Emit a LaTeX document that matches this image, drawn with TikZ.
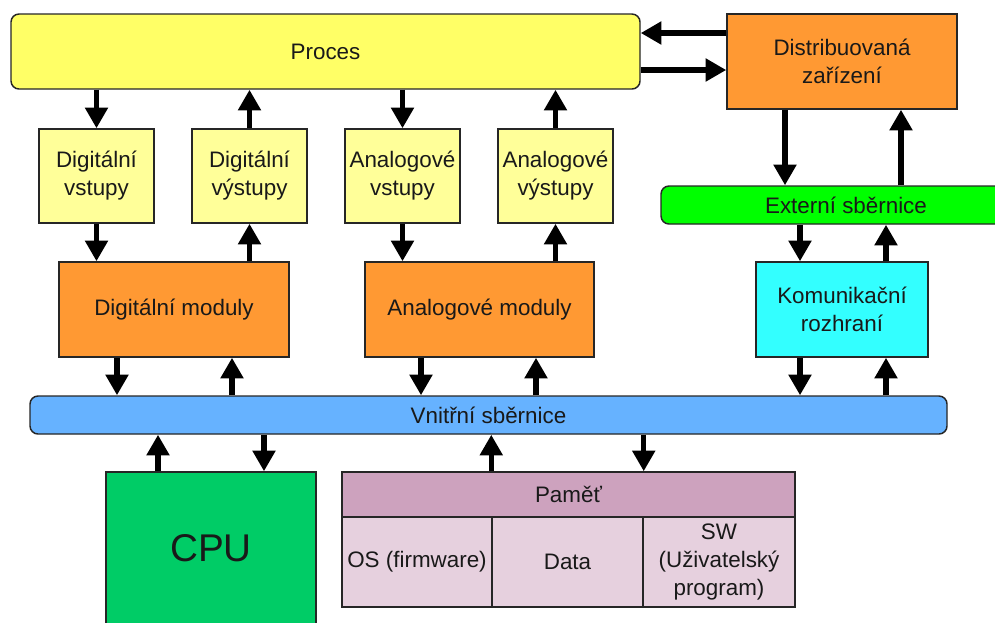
\documentclass[tikz,border=0pt]{standalone}
\usepackage{fontspec}
\setmainfont{Liberation Sans}
\usetikzlibrary{arrows.meta}

\definecolor{procY}{HTML}{FFFF66}
\definecolor{ioY}{HTML}{FFFF99}
\definecolor{modO}{HTML}{FF9933}
\definecolor{extG}{HTML}{00FF00}
\definecolor{komC}{HTML}{33FFFF}
\definecolor{busB}{HTML}{66B2FF}
\definecolor{cpuG}{HTML}{00CC66}
\definecolor{memH}{HTML}{CDA2BE}
\definecolor{memC}{HTML}{E6D0DE}

\tikzset{
  blk/.style={draw=black!85, line width=1.1pt, inner sep=0pt, align=center,
    font=\fontsize{16.8}{21}\selectfont, text=black!90},
  rblk/.style={blk, rounded corners=6pt},
  arr/.style={line width=4pt, -{Triangle[length=15.5pt,width=16.5pt]}},
}

\begin{document}
\begin{tikzpicture}[x=0.75pt, y=-0.75pt]
  \useasboundingbox (0,0) rectangle (995,622);
  \clip (0,0) rectangle (995,622);

  % top row
  \node[rblk, fill=procY, minimum width=471.75pt, minimum height=56.25pt] (proc) at (325.5,51.5) {Proces};
  \node[blk, fill=modO, minimum width=172.5pt, minimum height=71.25pt] (dist) at (842,61.5) {Distribuovaná\\zařízení};

  % inputs / outputs
  \node[blk, fill=ioY, minimum width=86.25pt, minimum height=70.5pt] (dv)  at (96.5,176)  {Digitální\\vstupy};
  \node[blk, fill=ioY, minimum width=86.25pt, minimum height=70.5pt] (dvy) at (249.5,176) {Digitální\\výstupy};
  \node[blk, fill=ioY, minimum width=86.25pt, minimum height=70.5pt] (av)  at (402.5,176) {Analogové\\vstupy};
  \node[blk, fill=ioY, minimum width=86.25pt, minimum height=70.5pt] (avy) at (555.5,176) {Analogové\\výstupy};

  % external bus and communication interface
  \node[rblk, fill=extG, minimum width=277.5pt, minimum height=28.5pt] (ext) at (846,205) {Externí sběrnice};
  \node[blk, fill=komC, minimum width=129pt, minimum height=71.25pt] (kom) at (842,309.5) {Komunikační\\rozhraní};

  % modules
  \node[blk, fill=modO, minimum width=172.5pt, minimum height=71.25pt] (dm) at (174,309.5) {Digitální moduly};
  \node[blk, fill=modO, minimum width=171.75pt, minimum height=71.25pt] (am) at (479.5,309.5) {Analogové moduly};

  % internal bus
  \node[rblk, fill=busB, minimum width=687.75pt, minimum height=28.5pt] (bus) at (488.5,415) {Vnitřní sběrnice};

  % CPU and memory
  \node[blk, fill=cpuG, minimum width=157.5pt, minimum height=114pt, font=\fontsize{29}{34}\selectfont] (cpu) at (211,548) {CPU};
  \node[blk, fill=memH, minimum width=339.75pt, minimum height=33.75pt] (memh) at (568.5,494.5) {Paměť};
  \node[blk, fill=memC, minimum width=112.5pt, minimum height=67.5pt] (os)   at (417,562)   {OS (firmware)};
  \node[blk, fill=memC, minimum width=113.25pt, minimum height=67.5pt] (data) at (567.5,562) {Data};
  \node[blk, fill=memC, minimum width=114pt, minimum height=67.5pt] (sw)   at (719,562)   {SW\\(Uživatelský\\program)};

  % process <-> distributed devices
  \draw[arr] ([yshift=21.375pt]dist.west) -- ([yshift=21.375pt]dist.west -| proc.east);
  \draw[arr] ([yshift=-6.375pt]dist.west -| proc.east) -- ([yshift=-6.375pt]dist.west);

  % process <-> I/O
  \draw[arr] (dv.north |- proc.south) -- (dv.north);
  \draw[arr] (dvy.north) -- (dvy.north |- proc.south);
  \draw[arr] (av.north |- proc.south) -- (av.north);
  \draw[arr] (avy.north) -- (avy.north |- proc.south);

  % I/O <-> modules
  \draw[arr] (dv.south) -- (dv.south |- dm.north);
  \draw[arr] (dvy.south |- dm.north) -- (dvy.south);
  \draw[arr] (av.south) -- (av.south |- am.north);
  \draw[arr] (avy.south |- am.north) -- (avy.south);

  % modules <-> internal bus
  \draw[arr] ([xshift=-42.75pt]dm.south) -- ([xshift=-42.75pt]dm.south |- bus.north);
  \draw[arr] ([xshift=43.5pt]dm.south |- bus.north) -- ([xshift=43.5pt]dm.south);
  \draw[arr] ([xshift=-43.875pt]am.south) -- ([xshift=-43.875pt]am.south |- bus.north);
  \draw[arr] ([xshift=42.375pt]am.south |- bus.north) -- ([xshift=42.375pt]am.south);

  % distributed devices <-> external bus
  \draw[arr] ([xshift=-42.75pt]dist.south) -- ([xshift=-42.75pt]dist.south |- ext.north);
  \draw[arr] ([xshift=44.25pt]dist.south |- ext.north) -- ([xshift=44.25pt]dist.south);

  % external bus <-> interface <-> internal bus
  \draw[arr] ([xshift=-31.5pt]kom.north |- ext.south) -- ([xshift=-31.5pt]kom.north);
  \draw[arr] ([xshift=33pt]kom.north) -- ([xshift=33pt]kom.north |- ext.south);
  \draw[arr] ([xshift=-31.5pt]kom.south) -- ([xshift=-31.5pt]kom.south |- bus.north);
  \draw[arr] ([xshift=33pt]kom.south |- bus.north) -- ([xshift=33pt]kom.south);

  % internal bus <-> CPU and memory
  \draw[arr] ([xshift=-39.75pt]cpu.north) -- ([xshift=-39.75pt]cpu.north |- bus.south);
  \draw[arr] ([xshift=39.75pt]cpu.north |- bus.south) -- ([xshift=39.75pt]cpu.north);
  \draw[arr] (data.north west |- memh.north) -- (data.north west |- bus.south);
  \draw[arr] (data.north east |- bus.south) -- (data.north east |- memh.north);
\end{tikzpicture}
\end{document}
